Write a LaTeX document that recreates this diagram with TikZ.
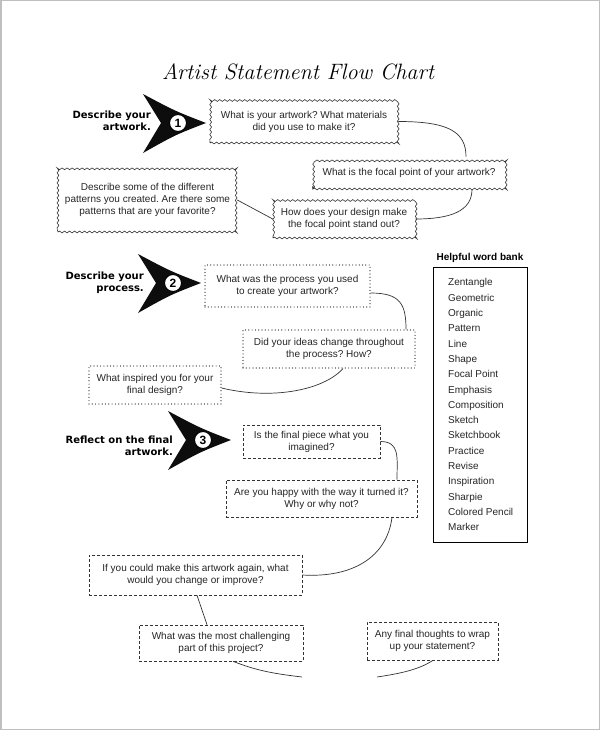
\documentclass[tikz,border=0pt]{standalone}
\usepackage{fontspec}
\usepackage{graphicx}
\setmainfont{Liberation Sans}
\newfontfamily\lblfont{DejaVu Sans}
\newfontfamily\titlefont{Latin Modern Roman}
\usetikzlibrary{decorations.pathmorphing,calc}
\frenchspacing
\tikzset{
  qtext/.style={font=\frenchspacing\fontsize{10}{12}\selectfont, text=black!85, align=center, inner sep=0pt},
  wavy/.style={qtext, draw=black!80, line width=0.6pt, decorate, decoration={snake, amplitude=0.9pt, segment length=5pt}},
  dotbox/.style={qtext, draw=black!90, line width=1.2pt, dash pattern=on 0pt off 3.3pt, line cap=round},
  dashbox/.style={qtext, draw=black!80, line width=0.6pt, dash pattern=on 3pt off 2pt},
  link/.style={draw=black!80, line width=0.7pt},
  sect/.style={font=\lblfont\bfseries\fontsize{10}{12}\selectfont, align=right, inner sep=0pt, anchor=east},
  numc/.style={circle, draw=black, line width=1pt, fill=white, minimum size=17pt, inner sep=0pt, font=\bfseries\fontsize{12}{12}\selectfont},
  chevron/.pic={\fill[black!95] (-35,-29) .. controls (-3,-12) .. (28,0) .. controls (-3,12) .. (-35,30) -- (-17,0) -- cycle;},
  wbbox/.style={draw=black, line width=0.8pt, inner sep=0pt},
}
\begin{document}
\begin{tikzpicture}[x=1pt,y=-1pt]
\useasboundingbox (0,0) rectangle (600,730);
\fill[white] (0,0) rectangle (600,730);
\draw[black!25, line width=1.5pt] (0.75,0.75) rectangle (599.25,729.25);

% title
\node (T) at (298,72) {\resizebox{272pt}{!}{\titlefont\itshape\fontsize{24}{28}\selectfont Artist Statement Flow Chart}};

% section 1
\pic at (178,123) {chevron};
\node[numc] (N1) at (178,123) {1};
\node[sect] (L1) at (151,121) {Describe your\\artwork.};
\node[wavy, minimum width=188pt, minimum height=43pt] (A1) at (304,121.5) {What is your artwork? What materials\\did you use to make it?};
\node[wavy, minimum width=192pt, minimum height=32pt] (A2) at (409,173) {What is the focal point of your artwork?};
\node[wavy, minimum width=142pt, minimum height=38pt] (A3) at (344,219) {How does your design make\\the focal point stand out?};
\node[wavy, minimum width=179pt, minimum height=64pt] (A4) at (147.5,200) {Describe some of the different\\patterns you created. Are there some\\patterns that are your favorite?};
\draw[link] (A1.east) .. controls +(50,0) and +(0,-25) .. ($(A2.north)+(57,0)$);
\draw[link] ($(A2.south)+(63,0)$) .. controls +(0,22) and +(35,0) .. (A3.east);
\draw[link] (A4.east) -- (A3.west);

% section 2
\pic at (173,283) {chevron};
\node[numc] (N2) at (173,283) {2};
\node[sect] (L2) at (144,282.5) {Describe your\\process.};
\node[dotbox, minimum width=165pt, minimum height=42pt] (B1) at (287.5,286) {What was the process you used\\to create your artwork?};
\node[dotbox, minimum width=172pt, minimum height=38pt] (B2) at (329,349) {Did your ideas change throughout\\the process? How?};
\node[dotbox, minimum width=132pt, minimum height=38pt] (B3) at (155,385) {What inspired you for your\\final design?};
\draw[link] ($(B1.east)+(0,7)$) .. controls +(30,0) and +(0,-25) .. ($(B2.north)+(77,0)$);
\draw[link] ($(B2.south)+(14,0)$) .. controls +(-20,22) and +(50,12) .. ($(B3.east)+(0,3)$);

% section 3
\pic at (203,440) {chevron};
\node[numc] (N3) at (203,440) {3};
\node[sect] (L3) at (173,445.5) {Reflect on the final\\artwork.};
\node[dashbox, minimum width=137pt, minimum height=33pt] (C1) at (311.5,441.5) {Is the final piece what you\\imagined?};
\node[dashbox, minimum width=191pt, minimum height=37pt] (C2) at (321.5,498.5) {Are you happy with the way it turned it?\\Why or why not?};
\node[dashbox, minimum width=213pt, minimum height=40pt] (C3) at (195.5,575) {If you could make this artwork again, what\\would you change or improve?};
\node[dashbox, minimum width=164pt, minimum height=36pt] (C4) at (221,643) {What was the most challenging\\part of this project?};
\node[dashbox, minimum width=131pt, minimum height=38pt] (C5) at (432.5,641) {Any final thoughts to wrap\\up your statement?};
\draw[link] (C1.east) .. controls +(20,0) and +(0,-22) .. ($(C2.north)+(75.5,0)$);
\draw[link] ($(C2.south)+(70.5,0)$) .. controls +(-5,40) and +(50,3) .. (C3.east);
\draw[link] ($(C3.south)+(1.5,0)$) -- ($(C4.north)+(-14,0)$);
\coordinate (E1) at (302,677);
\coordinate (E2) at (377,677);
\draw[link] ($(C4.south)+(12,0)$) .. controls +(25,10) and +(-25,-3) .. (E1);
\draw[link] ($(C5.south)+(0.5,0)$) .. controls +(-15,10) and +(20,-3) .. (E2);

% word bank
\node[font=\bfseries\fontsize{10}{12}\selectfont] (WT) at (480,258) {Helpful word bank};
\node[wbbox, minimum width=94pt, minimum height=275pt] (WB) at (480,404.5) {};
\node[anchor=north west, align=left, inner sep=0pt, font=\fontsize{10}{15.3}\selectfont, text=black!85] (WL) at (448,278.5) {Zentangle\\Geometric\\Organic\\Pattern\\Line\\Shape\\Focal Point\\Emphasis\\Composition\\Sketch\\Sketchbook\\Practice\\Revise\\Inspiration\\Sharpie\\Colored Pencil\\Marker};
\end{tikzpicture}
\end{document}
